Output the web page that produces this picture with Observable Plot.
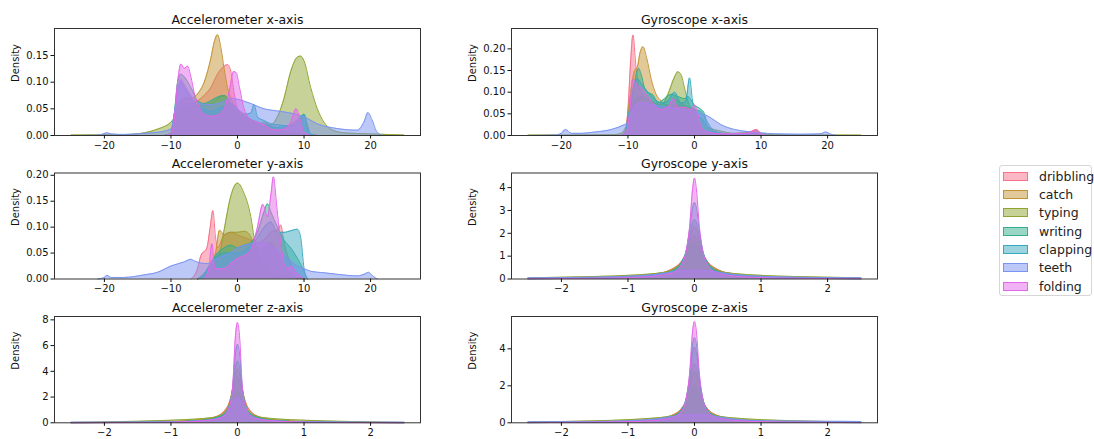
<!DOCTYPE html>
<html><head><meta charset="utf-8">
<script src="https://cdn.jsdelivr.net/npm/d3@7"></script>
<script src="https://cdn.jsdelivr.net/npm/@observablehq/plot@0.6"></script>
<style>
body{margin:0;background:#fff;}
#chart{position:relative;width:1094px;height:439px;overflow:hidden;font-family:"DejaVu Sans",sans-serif;background:#fff;}
#chart svg{position:absolute;left:0;top:0;}
.legend{position:absolute;left:999px;top:165px;width:93px;height:131px;border:1px solid #d6d6d6;border-radius:3px;background:#fff;box-sizing:border-box;}
.lrow{position:absolute;left:3px;height:18px;display:flex;align-items:center;font-size:12.5px;color:#222;white-space:nowrap;}
.lpatch{width:25px;height:9px;box-sizing:border-box;border:1px solid;margin-right:11px;}
</style></head><body><div id="chart"></div><script>
// ---- categories & colours ----
const classes = ["dribbling","catch","typing","writing","clapping","teeth","folding"];
const colors  = ["#f77189","#c39434","#8ea531","#35ae8d","#38aabf","#7a94f2","#e467ea"];
const titles  = ["Accelerometer x-axis","Gyroscope x-axis","Accelerometer y-axis","Gyroscope y-axis","Accelerometer z-axis","Gyroscope z-axis"];
const wideTicks = [-20,-10,0,10,20];
const narrowTicks = [-2,-1,0,1,2];

// ---- Accelerometer x-axis: [value, density] ----
const accX_dribbling = [[-11,0],[-10,0.004],[-9.5,0.02],[-9,0.045],[-8,0.06],[-7,0.06],[-6,0.065],[-5,0.075],[-4,0.09],[-3,0.115],[-2,0.13],[-1.5,0.133],[-1,0.12],[-0.5,0.08],[0,0.05],[1,0.035],[2,0.025],[4,0.015],[6,0.01],[8,0.005],[10,0.002],[11,0]];
const accX_catch = [[-11,0],[-10,0.005],[-9.5,0.03],[-9,0.055],[-8,0.07],[-7,0.07],[-6,0.078],[-5,0.1],[-4,0.145],[-3.5,0.175],[-3,0.189],[-2.5,0.165],[-2,0.125],[-1.5,0.09],[-1,0.07],[0,0.05],[1,0.04],[2,0.03],[3,0.02],[4,0.025],[5,0.018],[6,0.01],[8,0.005],[10,0.002],[11,0]];
const accX_typing = [[-25,0.001],[-16,0.002],[-14,0.005],[-12,0.012],[-10,0.025],[-9,0.04],[-8,0.05],[-6,0.055],[-4,0.06],[-2,0.075],[-1,0.06],[0,0.045],[2,0.03],[4,0.02],[5,0.02],[6,0.035],[7,0.07],[8,0.12],[9,0.147],[9.5,0.149],[10,0.14],[11,0.09],[12,0.05],[13,0.025],[14,0.012],[16,0.005],[20,0.003],[25,0.001]];
const accX_writing = [[-11,0],[-10,0.003],[-9.5,0.04],[-9,0.1],[-8.5,0.115],[-8,0.11],[-7,0.09],[-6,0.065],[-5,0.06],[-4,0.065],[-3,0.072],[-2,0.075],[-1,0.06],[0,0.045],[1,0.035],[2,0.03],[3,0.025],[4,0.02],[6,0.015],[8,0.02],[9.5,0.035],[10,0.04],[10.5,0.015],[11,0.002],[12,0]];
const accX_clapping = [[-11,0],[-10,0.003],[-9.5,0.04],[-9,0.08],[-8.5,0.1],[-8,0.09],[-7,0.07],[-6,0.055],[-5,0.05],[-4,0.045],[-3,0.05],[-2,0.055],[-1,0.06],[0,0.05],[1,0.04],[2,0.042],[2.5,0.058],[3,0.035],[4,0.028],[5,0.022],[6,0.02],[8,0.018],[9.5,0.03],[10,0.04],[10.5,0.02],[11,0.003],[12,0]];
const accX_teeth = [[-25,0],[-21,0.0005],[-20.2,0.003],[-19.6,0.005],[-19,0.003],[-17,0.002],[-14,0.004],[-12,0.006],[-10,0.012],[-9.5,0.04],[-9,0.08],[-8.5,0.105],[-8,0.095],[-7,0.075],[-6,0.06],[-4,0.058],[-2,0.064],[-1,0.07],[0,0.068],[2,0.06],[4,0.05],[6,0.046],[8,0.042],[10,0.035],[12,0.022],[15,0.013],[18,0.01],[19,0.025],[19.6,0.043],[20.2,0.03],[21,0.006],[22,0],[25,0]];
const accX_folding = [[-11,0],[-10,0.003],[-9.5,0.03],[-9,0.1],[-8.5,0.134],[-8,0.126],[-7.5,0.13],[-7,0.11],[-6.5,0.08],[-6,0.06],[-5,0.04],[-4,0.036],[-3,0.038],[-2,0.05],[-1.2,0.085],[-0.6,0.12],[-0.2,0.118],[0.3,0.09],[1,0.05],[2,0.03],[3,0.025],[4,0.02],[5,0.012],[6,0.01],[7,0.012],[8,0.025],[8.8,0.05],[9.4,0.03],[10,0.006],[11,0]];

// ---- Gyroscope x-axis ----
const gyrX_dribbling = [[-11,0],[-10.5,0.005],[-10,0.06],[-9.6,0.17],[-9.25,0.232],[-8.8,0.16],[-8.3,0.11],[-7.5,0.09],[-6,0.07],[-5,0.065],[-4,0.07],[-3,0.085],[-2,0.075],[-1,0.065],[0,0.06],[0.5,0.03],[1,0.015],[2,0.008],[4,0.004],[6,0.003],[8,0.006],[9.3,0.014],[10,0.005],[11,0]];
const gyrX_catch = [[-11,0],[-10.3,0.01],[-10,0.05],[-9.5,0.11],[-9,0.15],[-8.6,0.157],[-8.2,0.19],[-7.75,0.205],[-7.2,0.18],[-6.5,0.13],[-5.8,0.096],[-5,0.08],[-4,0.07],[-3,0.07],[-2,0.068],[-1,0.065],[0,0.06],[0.5,0.03],[1.5,0.01],[3,0.003],[8,0.004],[9.3,0.012],[10,0.004],[11,0]];
const gyrX_typing = [[-25,0.001],[-12,0.002],[-11,0.005],[-10,0.03],[-9,0.08],[-8,0.09],[-7,0.085],[-6,0.075],[-5,0.07],[-4,0.095],[-3,0.135],[-2.5,0.147],[-2,0.14],[-1.5,0.11],[-1,0.08],[0,0.05],[1,0.04],[2,0.02],[4,0.01],[6,0.005],[9,0.008],[10,0.005],[12,0.002],[25,0.001]];
const gyrX_writing = [[-11,0],[-10,0.02],[-9.5,0.07],[-9,0.12],[-8.4,0.155],[-8,0.14],[-7.5,0.11],[-7,0.1],[-6.2,0.093],[-5.5,0.075],[-4.5,0.085],[-3.5,0.095],[-2.5,0.09],[-1.5,0.085],[-1,0.09],[0,0.07],[0.5,0.065],[1,0.06],[1.5,0.05],[2,0.02],[3,0.008],[5,0.003],[9,0.005],[11,0]];
const gyrX_clapping = [[-10.5,0],[-10,0.04],[-9,0.12],[-8.5,0.13],[-8,0.12],[-7,0.1],[-6,0.085],[-5,0.075],[-4,0.08],[-3,0.1],[-2,0.075],[-1.3,0.08],[-0.75,0.133],[-0.3,0.08],[0,0.06],[1,0.055],[2,0.03],[3,0.01],[5,0.004],[11,0]];
const gyrX_teeth = [[-25,0],[-21,0.001],[-20,0.005],[-19.4,0.014],[-18.5,0.005],[-17,0.005],[-15,0.008],[-13,0.012],[-11,0.022],[-10,0.03],[-9.5,0.05],[-9,0.07],[-8,0.075],[-6,0.07],[-4,0.065],[-2,0.06],[0,0.055],[1,0.05],[2,0.045],[3,0.035],[4,0.025],[6,0.014],[8,0.009],[10,0.006],[12,0.004],[16,0.003],[19,0.004],[19.7,0.008],[20.5,0.003],[21.5,0],[25,0]];
const gyrX_folding = [[-11,0],[-10.2,0.01],[-9.7,0.06],[-9.3,0.13],[-8.5,0.115],[-8,0.11],[-7.5,0.1],[-7,0.09],[-6,0.07],[-5,0.06],[-4,0.065],[-3.2,0.085],[-2.5,0.065],[-1.5,0.065],[-0.5,0.06],[0,0.07],[0.5,0.05],[1,0.02],[2,0.008],[4,0.004],[8,0.005],[9.3,0.012],[10,0.004],[11,0]];

// ---- Accelerometer y-axis ----
const accY_dribbling = [[-7,0],[-6,0.02],[-5.5,0.045],[-4.6,0.06],[-4.1,0.1],[-3.7,0.132],[-3.3,0.08],[-3,0.06],[-2,0.085],[-1,0.09],[0,0.085],[1,0.08],[2,0.075],[3,0.07],[4,0.075],[5,0.09],[6,0.095],[6.5,0.104],[7,0.07],[8,0.03],[9,0.01],[10,0]];
const accY_catch = [[-6,0],[-5,0.01],[-4,0.03],[-3.3,0.05],[-2.7,0.094],[-2,0.085],[-1,0.09],[0,0.09],[1,0.092],[1.5,0.09],[2.5,0.07],[3,0.06],[4,0.06],[5,0.07],[6,0.05],[7,0.025],[8,0.01],[9,0]];
const accY_typing = [[-6,0],[-5,0.005],[-4,0.02],[-3,0.04],[-2.5,0.06],[-2,0.095],[-1,0.16],[0,0.185],[1,0.165],[2,0.12],[2.5,0.08],[3,0.05],[4,0.03],[5,0.015],[6,0.008],[8,0.003],[10,0]];
const accY_writing = [[-6,0],[-5,0.01],[-4,0.03],[-3,0.05],[-2,0.06],[-1,0.065],[0,0.06],[1,0.065],[2,0.07],[3,0.09],[4,0.13],[4.5,0.145],[5,0.13],[6,0.1],[7,0.075],[8,0.06],[9,0.04],[10,0.015],[10.5,0]];
const accY_clapping = [[-6,0],[-5,0.01],[-4,0.03],[-3,0.045],[-2,0.05],[-1,0.05],[0,0.05],[1,0.055],[2,0.065],[3,0.08],[4,0.1],[5,0.11],[6,0.09],[7,0.09],[8,0.093],[9,0.096],[9.5,0.08],[10,0.02],[10.5,0]];
const accY_teeth = [[-21,0],[-20,0.003],[-19.6,0.007],[-19,0.003],[-17,0.003],[-14,0.008],[-12,0.013],[-10,0.025],[-8,0.033],[-7,0.038],[-6.5,0.035],[-5,0.03],[-4,0.03],[-3,0.04],[-2,0.045],[-1,0.05],[0,0.06],[1,0.065],[2,0.068],[3,0.07],[4,0.07],[5,0.065],[6,0.055],[7,0.045],[8,0.035],[9,0.025],[10,0.02],[11,0.015],[13,0.012],[15,0.009],[18,0.006],[19.2,0.01],[19.7,0.013],[20.3,0.006],[21,0]];
const accY_folding = [[-5,0],[-4.3,0.02],[-3.85,0.068],[-3.4,0.02],[-2,0.02],[-1,0.03],[0,0.04],[1,0.045],[2,0.055],[3,0.1],[3.8,0.144],[4.5,0.12],[5,0.16],[5.4,0.197],[5.9,0.14],[6.4,0.08],[7,0.03],[7.6,0.02],[8,0.025],[9,0.01],[10,0]];

// ---- z-axis style panels: shared value grid + densities ----
const zGrid = [-2.5,-2,-1.5,-1,-0.6,-0.4,-0.3,-0.2,-0.12,-0.07,-0.03,0,0.03,0.07,0.12,0.2,0.3,0.4,0.6,1,1.5,2,2.5];

const gyrY_dribbling = [0.02,0.03,0.06,0.12,0.22,0.35,0.5,0.75,1.2,1.7,2.15,2.3,2.15,1.7,1.2,0.75,0.5,0.35,0.22,0.12,0.06,0.03,0.02];
const gyrY_catch     = [0.02,0.04,0.06,0.12,0.22,0.34,0.48,0.72,1.1,1.5,1.8,1.9,1.8,1.5,1.1,0.72,0.48,0.34,0.22,0.12,0.06,0.04,0.02];
const gyrY_typing    = [0.05,0.08,0.11,0.16,0.24,0.32,0.42,0.62,0.95,1.3,1.52,1.6,1.52,1.3,0.95,0.62,0.42,0.32,0.24,0.16,0.11,0.08,0.05];
const gyrY_writing   = [0.01,0.02,0.04,0.08,0.16,0.28,0.42,0.7,1.25,1.9,2.45,2.6,2.45,1.9,1.25,0.7,0.42,0.28,0.16,0.08,0.04,0.02,0.01];
const gyrY_clapping  = [0.01,0.02,0.04,0.07,0.15,0.26,0.38,0.66,1.3,2.2,3.1,3.35,3.1,2.2,1.3,0.66,0.38,0.26,0.15,0.07,0.04,0.02,0.01];
const gyrY_teeth     = [0.05,0.06,0.08,0.12,0.2,0.28,0.33,0.36,0.37,0.38,0.38,0.38,0.38,0.38,0.37,0.36,0.33,0.28,0.2,0.12,0.08,0.06,0.05];
const gyrY_folding   = [0.01,0.02,0.03,0.06,0.13,0.22,0.32,0.6,1.3,2.4,3.9,4.42,3.9,2.4,1.3,0.6,0.32,0.22,0.13,0.06,0.03,0.02,0.01];

const accZ_dribbling = [0.01,0.02,0.04,0.09,0.22,0.36,0.52,0.9,1.6,2.5,3.3,3.6,3.3,2.5,1.6,0.9,0.52,0.36,0.22,0.09,0.04,0.02,0.01];
const accZ_catch     = [0.01,0.02,0.04,0.09,0.2,0.34,0.5,0.85,1.6,2.7,3.8,4.2,3.8,2.7,1.6,0.85,0.5,0.34,0.2,0.09,0.04,0.02,0.01];
const accZ_typing    = [0.03,0.07,0.12,0.2,0.3,0.4,0.48,0.68,1.05,1.6,2.2,2.5,2.2,1.6,1.05,0.68,0.48,0.4,0.3,0.2,0.12,0.07,0.03];
const accZ_writing   = [0.01,0.02,0.03,0.07,0.16,0.28,0.42,0.7,1.4,2.6,4.3,4.8,4.3,2.6,1.4,0.7,0.42,0.28,0.16,0.07,0.03,0.02,0.01];
const accZ_clapping  = [0.01,0.02,0.03,0.06,0.15,0.26,0.38,0.62,1.35,2.9,5.4,6.1,5.4,2.9,1.35,0.62,0.38,0.26,0.15,0.06,0.03,0.02,0.01];
const accZ_teeth     = [0.05,0.05,0.06,0.08,0.14,0.22,0.32,0.55,0.95,1.45,1.85,2.0,1.85,1.45,0.95,0.55,0.32,0.22,0.14,0.08,0.06,0.05,0.05];
const accZ_folding   = [0.005,0.01,0.02,0.05,0.12,0.22,0.32,0.55,1.3,3.0,6.8,7.8,6.8,3.0,1.3,0.55,0.32,0.22,0.12,0.05,0.02,0.01,0.005];

const gyrZ_dribbling = [0.02,0.03,0.05,0.1,0.2,0.32,0.46,0.75,1.3,2.1,2.95,3.2,2.95,2.1,1.3,0.75,0.46,0.32,0.2,0.1,0.05,0.03,0.02];
const gyrZ_catch     = [0.02,0.03,0.05,0.1,0.2,0.32,0.46,0.72,1.2,1.9,2.6,2.8,2.6,1.9,1.2,0.72,0.46,0.32,0.2,0.1,0.05,0.03,0.02];
const gyrZ_typing    = [0.04,0.07,0.11,0.17,0.26,0.34,0.42,0.6,0.95,1.4,1.85,2.0,1.85,1.4,0.95,0.6,0.42,0.34,0.26,0.17,0.11,0.07,0.04];
const gyrZ_writing   = [0.01,0.02,0.04,0.07,0.15,0.26,0.38,0.68,1.35,2.4,3.75,4.1,3.75,2.4,1.35,0.68,0.38,0.26,0.15,0.07,0.04,0.02,0.01];
const gyrZ_clapping  = [0.01,0.02,0.03,0.06,0.14,0.24,0.36,0.65,1.4,2.6,4.2,4.6,4.2,2.6,1.4,0.65,0.36,0.24,0.14,0.06,0.03,0.02,0.01];
const gyrZ_teeth     = [0.05,0.06,0.07,0.11,0.2,0.3,0.36,0.4,0.42,0.43,0.43,0.43,0.43,0.43,0.42,0.4,0.36,0.3,0.2,0.11,0.09,0.08,0.07];
const gyrZ_folding   = [0.01,0.02,0.03,0.06,0.13,0.22,0.32,0.6,1.4,2.8,4.9,5.48,4.9,2.8,1.4,0.6,0.32,0.22,0.13,0.06,0.03,0.02,0.01];

// ---- assemble panels ----
const onGrid = arr => zGrid.map((x, i) => [x, arr[i]]);
const panels = [
  {title: titles[0], col: 0, row: 0, wide: true, ymax: 0.2007, yticks: [0,0.05,0.1,0.15], yfmt: ".2f",
   series: [accX_dribbling,accX_catch,accX_typing,accX_writing,accX_clapping,accX_teeth,accX_folding]},
  {title: titles[1], col: 1, row: 0, wide: true, ymax: 0.247, yticks: [0,0.05,0.1,0.15,0.2], yfmt: ".2f",
   series: [gyrX_dribbling,gyrX_catch,gyrX_typing,gyrX_writing,gyrX_clapping,gyrX_teeth,gyrX_folding]},
  {title: titles[2], col: 0, row: 1, wide: true, ymax: 0.2044, yticks: [0,0.05,0.1,0.15,0.2], yfmt: ".2f",
   series: [accY_dribbling,accY_catch,accY_typing,accY_writing,accY_clapping,accY_teeth,accY_folding]},
  {title: titles[3], col: 1, row: 1, wide: false, ymax: 4.64, yticks: [0,1,2,3,4], yfmt: "d",
   series: [gyrY_dribbling,gyrY_catch,gyrY_typing,gyrY_writing,gyrY_clapping,gyrY_teeth,gyrY_folding].map(onGrid)},
  {title: titles[4], col: 0, row: 2, wide: false, ymax: 8.26, yticks: [0,2,4,6,8], yfmt: "d",
   series: [accZ_dribbling,accZ_catch,accZ_typing,accZ_writing,accZ_clapping,accZ_teeth,accZ_folding].map(onGrid)},
  {title: titles[5], col: 1, row: 2, wide: false, ymax: 5.75, yticks: [0,2,4], yfmt: "d",
   series: [gyrZ_dribbling,gyrZ_catch,gyrZ_typing,gyrZ_writing,gyrZ_clapping,gyrZ_teeth,gyrZ_folding].map(onGrid)}
];

const W = 1094, H = 439;
const colFrames = [[54, 420], [511, 877]];
const rowFrames = [[28, 135], [172.5, 278.5], [316, 422.3]];
const chart = document.getElementById("chart");

for (const p of panels) {
  const [l, r] = colFrames[p.col];
  const [t, b] = rowFrames[p.row];
  const marks = [];
  p.series.forEach((s, i) => {
    marks.push(Plot.areaY(s, {x: d => d[0], y: d => d[1], fill: colors[i], fillOpacity: 0.5, curve: "monotone-x"}));
    marks.push(Plot.lineY(s, {x: d => d[0], y: d => d[1], stroke: colors[i], strokeWidth: 1, curve: "monotone-x"}));
  });
  marks.push(Plot.frame({stroke: "#333", strokeWidth: 1}));
  marks.push(Plot.axisX({ticks: p.wide ? wideTicks : narrowTicks, tickFormat: d3.format("d"), tickSize: 3.5, tickPadding: 2.5, label: null, fontSize: 10}));
  marks.push(Plot.axisY({ticks: p.yticks, tickFormat: d3.format(p.yfmt), tickSize: 3.5, tickPadding: 2.5, label: null, fontSize: 10}));
  marks.push(Plot.text([p.title], {frameAnchor: "top", dy: -5, lineAnchor: "bottom", fontSize: 12.5, fill: "#111"}));
  marks.push(Plot.text(["Density"], {frameAnchor: "left", dx: -39, rotate: -90, fontSize: 10, fill: "#111"}));
  const svg = Plot.plot({
    width: W, height: H,
    marginLeft: l, marginRight: W - r, marginTop: t, marginBottom: H - b,
    x: {domain: p.wide ? [-27.5, 27.5] : [-2.75, 2.75], label: null},
    y: {domain: [0, p.ymax], label: null},
    style: {fontFamily: "DejaVu Sans", fontSize: "10px", background: "transparent", overflow: "visible", color: "#111"},
    marks
  });
  chart.appendChild(svg);
}

// ---- legend ----
const legend = document.createElement("div");
legend.className = "legend";
classes.forEach((c, i) => {
  const row = document.createElement("div");
  row.className = "lrow";
  row.style.top = (1.3 + i * 18.3) + "px";
  const patch = document.createElement("div");
  patch.className = "lpatch";
  patch.style.borderColor = colors[i];
  patch.style.background = d3.color(colors[i]).copy({opacity: 0.5}).formatRgb();
  const label = document.createElement("span");
  label.textContent = c;
  row.appendChild(patch);
  row.appendChild(label);
  legend.appendChild(row);
});
chart.appendChild(legend);
</script></body></html>
